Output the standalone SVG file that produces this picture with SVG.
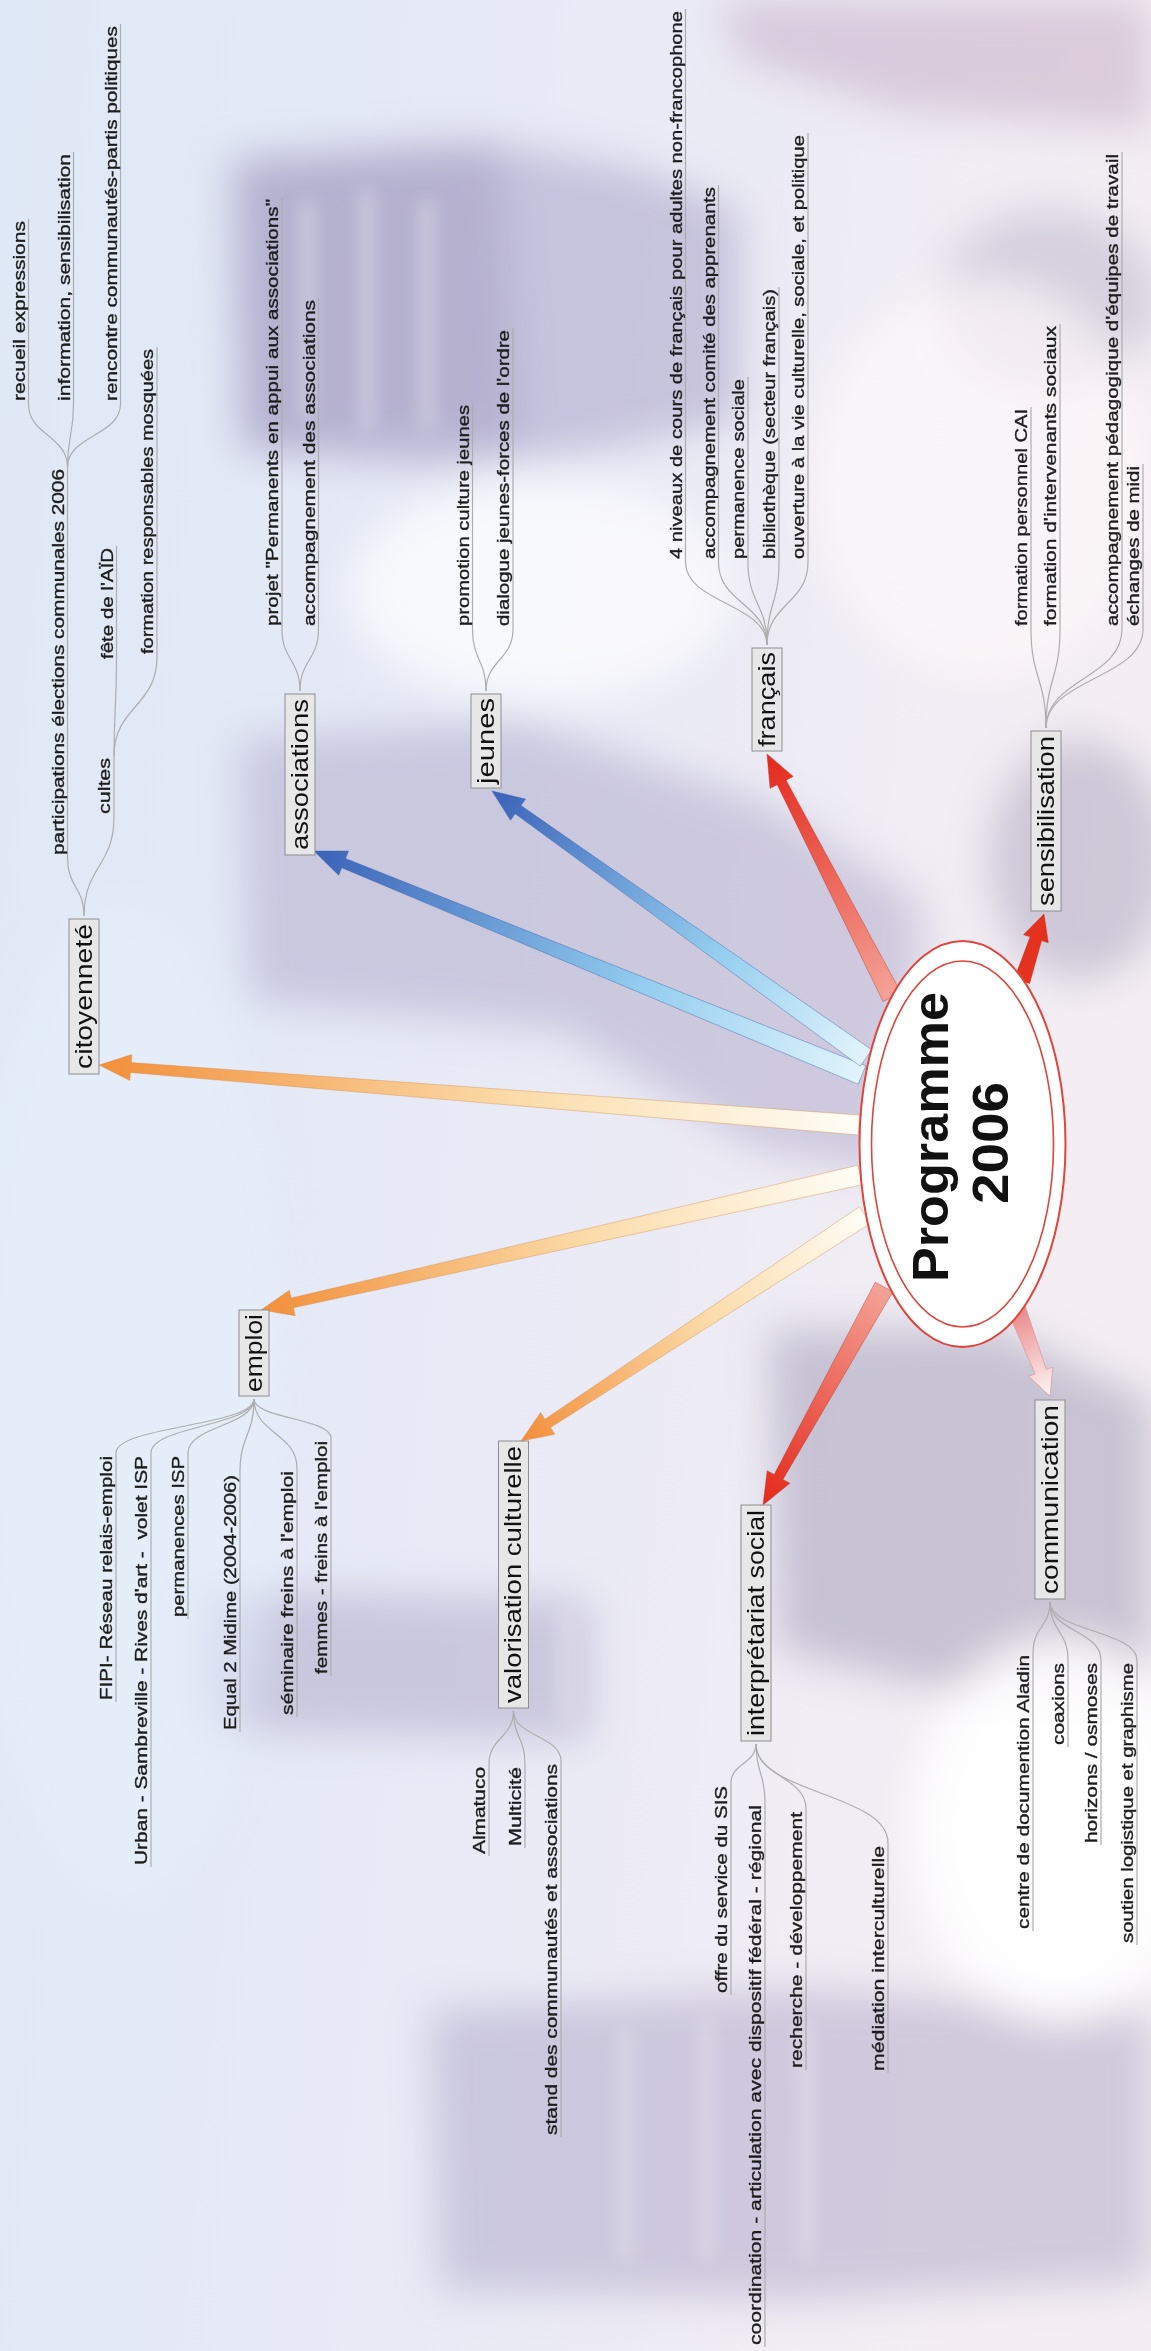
<svg xmlns="http://www.w3.org/2000/svg" width="1151" height="2351" viewBox="0 0 1151 2351">
<defs>
<style>
.box{fill:#e7e7e7;stroke:#8e8e8e;stroke-width:1}
.lbl{font-family:"Liberation Sans",Arial,sans-serif;font-size:24px;fill:#111}
.sub{font-family:"Liberation Sans",Arial,sans-serif;font-size:17px;fill:#1c1c1c;stroke:#1c1c1c;stroke-width:0.35}
.title{font-family:"Liberation Sans",Arial,sans-serif;font-size:50px;font-weight:bold;fill:#111}
.ln{fill:none;stroke:#adadad;stroke-width:1.2}
.arO{fill:url(#gOr);stroke:#d2833f;stroke-opacity:.45;stroke-width:.8}
.arB{fill:url(#gBl);stroke:#2f58a8;stroke-opacity:.45;stroke-width:.8}
.arR{fill:url(#gRd);stroke:#b8281c;stroke-opacity:.45;stroke-width:.8}
.arS{fill:#e4321f;stroke:#b8281c;stroke-opacity:.5;stroke-width:.8}
.arP{fill:url(#gPk);stroke:#d07a7a;stroke-opacity:.5;stroke-width:.8}
</style>
<linearGradient id="bg" x1="0" y1="0" x2="1" y2="0.2">
<stop offset="0" stop-color="#dfe8f6"/><stop offset="0.5" stop-color="#e8eaf6"/><stop offset="1" stop-color="#f4eef3"/>
</linearGradient>
<linearGradient id="gOr" x1="0" y1="0" x2="1" y2="0"><stop offset="0" stop-color="#fffdf6"/><stop offset="0.45" stop-color="#fbdcaa"/><stop offset="1" stop-color="#f28f3b"/></linearGradient>
<linearGradient id="gBl" x1="0" y1="0" x2="1" y2="0"><stop offset="0" stop-color="#e2f4fc"/><stop offset="0.4" stop-color="#93cdef"/><stop offset="1" stop-color="#3a62b8"/></linearGradient>
<linearGradient id="gRd" x1="0" y1="0" x2="1" y2="0"><stop offset="0" stop-color="#f4a397"/><stop offset="1" stop-color="#e4281b"/></linearGradient>
<linearGradient id="gPk" x1="0" y1="0" x2="1" y2="0"><stop offset="0" stop-color="#e98a8a"/><stop offset="1" stop-color="#fff5f5"/></linearGradient>
<filter id="blur" x="-30%" y="-30%" width="160%" height="160%"><feGaussianBlur stdDeviation="20"/></filter>
<filter id="blur2" x="-30%" y="-30%" width="160%" height="160%"><feGaussianBlur stdDeviation="9"/></filter>
</defs>

<g id="background">
<rect width="1151" height="2351" fill="url(#bg)"/>
<g filter="url(#blur)">
<path d="M230,160 L470,140 L640,170 L740,210 L740,420 L600,450 L440,470 L240,450 Z" fill="#a49ec4" opacity="0.5"/>
<path d="M240,160 L500,150 L520,440 L245,445 Z" fill="#9790b8" opacity="0.35"/>
<path d="M240,740 L520,720 L760,800 L920,900 L920,1180 L760,1150 L560,1030 L250,1000 Z" fill="#a6a0c4" opacity="0.45"/>
<ellipse cx="1080" cy="860" rx="90" ry="120" fill="#a8a2bc" opacity="0.5"/>
<path d="M720,0 L1151,0 L1151,130 L900,110 L740,60 Z" fill="#c4aac4" opacity="0.5"/>
<ellipse cx="1050" cy="300" rx="110" ry="90" fill="#b4aec6" opacity="0.45"/>
<path d="M200,1590 L590,1600 L590,1740 L200,1730 Z" fill="#a49ec2" opacity="0.45"/>
<path d="M770,1330 L1000,1330 L1151,1400 L1151,1700 L990,1700 L780,1650 Z" fill="#9e98b4" opacity="0.5"/>
<path d="M430,2010 L800,1990 L1151,2010 L1151,2280 L800,2300 L440,2290 Z" fill="#a49ec2" opacity="0.45"/>
<ellipse cx="540" cy="590" rx="190" ry="110" fill="#ffffff" opacity="0.7"/>
<ellipse cx="980" cy="480" rx="170" ry="200" fill="#fdf8fa" opacity="0.7"/>
<ellipse cx="1060" cy="1830" rx="150" ry="190" fill="#ffffff" opacity="0.9"/>
<ellipse cx="120" cy="1400" rx="160" ry="500" fill="#e6f0fb" opacity="0.6"/>
</g>
<g filter="url(#blur2)" opacity="0.35" fill="#ffffff">
<rect x="300" y="200" width="14" height="220"/><rect x="360" y="190" width="14" height="240"/><rect x="420" y="200" width="14" height="230"/>
<rect x="560" y="1610" width="12" height="110"/><rect x="620" y="2030" width="12" height="230"/><rect x="700" y="2020" width="12" height="240"/><rect x="800" y="2020" width="12" height="240"/>
</g>
</g>

<g transform="translate(0,2351) rotate(-90)">
<g id="connectors">
<path class="ln" d="M1435,84 C1464,84 1464,67.5 1493,67.5 H1884"/>
<path class="ln" d="M1435,84 C1484.5,84 1484.5,114 1534,114 H1595"/>
<path class="ln" d="M1884,67.5 C1915.5,67.5 1915.5,28.5 1947,28.5 H2132"/>
<path class="ln" d="M1884,67.5 C1915.5,67.5 1915.5,73.5 1947,73.5 H2199"/>
<path class="ln" d="M1884,67.5 C1915.5,67.5 1915.5,120.5 1947,120.5 H2327"/>
<path class="ln" d="M1595,114 C1642.5,114 1642.5,116.5 1690,116.5 H1805"/>
<path class="ln" d="M1595,114 C1644.5,114 1644.5,157 1694,157 H2004"/>
<path class="ln" d="M1660,300 C1691,300 1691,282 1722,282 H2154"/>
<path class="ln" d="M1660,300 C1691,300 1691,318.5 1722,318.5 H2053"/>
<path class="ln" d="M1660,486 C1691,486 1691,472.5 1722,472.5 H1948"/>
<path class="ln" d="M1660,486 C1691,486 1691,513 1722,513 H2023"/>
<path class="ln" d="M1706,767 C1747.5,767 1747.5,685.5 1789,685.5 H2342"/>
<path class="ln" d="M1706,767 C1747.5,767 1747.5,718.5 1789,718.5 H2166"/>
<path class="ln" d="M1706,767 C1747.5,767 1747.5,748 1789,748 H1974"/>
<path class="ln" d="M1706,767 C1747.5,767 1747.5,779 1789,779 H2064"/>
<path class="ln" d="M1706,767 C1747.5,767 1747.5,808 1789,808 H2218"/>
<path class="ln" d="M1623,1046 C1672.5,1046 1672.5,1031 1722,1031 H1944"/>
<path class="ln" d="M1623,1046 C1672.5,1046 1672.5,1060 1722,1060 H2027"/>
<path class="ln" d="M1623,1046 C1672.5,1046 1672.5,1122 1722,1122 H2199"/>
<path class="ln" d="M1623,1046 C1672.5,1046 1672.5,1143 1722,1143 H1887"/>
<path class="ln" d="M952,254 C925,254 925,116 898,116 H649"/>
<path class="ln" d="M952,254 C925,254 925,151 898,151 H484"/>
<path class="ln" d="M952,254 C925,254 925,188 898,188 H732"/>
<path class="ln" d="M952,254 C915.5,254 915.5,240 879,240 H619"/>
<path class="ln" d="M952,254 C917.5,254 917.5,297 883,297 H634"/>
<path class="ln" d="M952,254 C932.5,254 932.5,331 913,331 H675"/>
<path class="ln" d="M640,513.5 C613.5,513.5 613.5,489 587,489 H495"/>
<path class="ln" d="M640,513.5 C613.5,513.5 613.5,525 587,525 H503"/>
<path class="ln" d="M640,513.5 C615,513.5 615,561 590,561 H214"/>
<path class="ln" d="M607,756 C587.5,756 587.5,731 568,731 H356"/>
<path class="ln" d="M607,756 C578,756 578,765 549,765 H4"/>
<path class="ln" d="M607,756 C574.5,756 574.5,806 542,806 H281"/>
<path class="ln" d="M607,756 C557.5,756 557.5,888 508,888 H278"/>
<path class="ln" d="M749,1050 C724,1050 724,1033 699,1033 H420"/>
<path class="ln" d="M749,1050 C720,1050 720,1068 691,1068 H604"/>
<path class="ln" d="M749,1050 C720,1050 720,1101 691,1101 H506"/>
<path class="ln" d="M749,1050 C720,1050 720,1137 691,1137 H406"/>
<g transform="translate(1226,859) rotate(-85.49)"><polygon class="arO" points="0,-10 730.4,-5 730.4,-13 762.4,0 730.4,13 730.4,5 0,10"/></g>
<g transform="translate(1276,862) rotate(-67.77)"><polygon class="arB" points="0,-10 560,-5 560,-13 592,0 560,13 560,5 0,10"/></g>
<g transform="translate(1293,866) rotate(-54.48)"><polygon class="arB" points="0,-10 427.5,-5 427.5,-13 459.5,0 427.5,13 427.5,5 0,10"/></g>
<g transform="translate(1354,892) rotate(-27.22)"><polygon class="arR" points="0,-10 241.3,-5 241.3,-13 273.3,0 241.3,13 241.3,5 0,10"/></g>
<g transform="translate(1370,1022) rotate(18.18)"><polygon class="arS" points="0,-8 44.5,-6 44.5,-13 70.5,0 44.5,13 44.5,6 0,8"/></g>
<g transform="translate(1176,860) rotate(-102.70)"><polygon class="arO" points="0,-10 582,-5 582,-13 614,0 582,13 582,5 0,10"/></g>
<g transform="translate(1136,865) rotate(-123.30)"><polygon class="arO" points="0,-10 379.6,-5 379.6,-13 411.6,0 379.6,13 379.6,5 0,10"/></g>
<g transform="translate(1064,884) rotate(-150.97)"><polygon class="arR" points="0,-10 217.3,-5 217.3,-13 249.3,0 217.3,13 217.3,5 0,10"/></g>
<g transform="translate(1041,1017) rotate(159.0)"><polygon class="arP" points="0,-9 66.1,-6 66.1,-13 92.1,0 66.1,13 66.1,6 0,9"/></g>
</g>

<g id="n-programme">
<ellipse cx="1207" cy="962.5" rx="203" ry="103" fill="#ffffff" stroke="#e0443c" stroke-width="2"/>
<ellipse cx="1207" cy="962.5" rx="183" ry="91" fill="none" stroke="#e0443c" stroke-width="1.6"/>
<text class="title" x="1069" y="948" textLength="290" lengthAdjust="spacingAndGlyphs">Programme</text>
<text class="title" x="1147" y="1008" textLength="122" lengthAdjust="spacingAndGlyphs">2006</text>
</g>

<g id="n-citoyennete"><rect class="box" x="1277" y="69" width="155" height="30"/><text class="lbl" x="1282" y="91.5" textLength="145" lengthAdjust="spacingAndGlyphs">citoyenneté</text></g>
<g id="n-participations"><text class="sub" x="1496" y="63.5" textLength="386" lengthAdjust="spacingAndGlyphs">participations élections communales 2006</text></g>
<g id="n-recueil"><text class="sub" x="1950" y="24.5" textLength="180" lengthAdjust="spacingAndGlyphs">recueil expressions</text></g>
<g id="n-information"><text class="sub" x="1950" y="69.5" textLength="247" lengthAdjust="spacingAndGlyphs">information, sensibilisation</text></g>
<g id="n-rencontre"><text class="sub" x="1950" y="116.5" textLength="375" lengthAdjust="spacingAndGlyphs">rencontre communautés-partis politiques</text></g>
<g id="n-cultes"><text class="sub" x="1537" y="110" textLength="56" lengthAdjust="spacingAndGlyphs">cultes</text></g>
<g id="n-fete"><text class="sub" x="1692" y="112.5" textLength="111" lengthAdjust="spacingAndGlyphs">fête de l'AÏD</text></g>
<g id="n-formation-mosquees"><text class="sub" x="1697" y="153" textLength="305" lengthAdjust="spacingAndGlyphs">formation responsables mosquées</text></g>

<g id="n-associations"><rect class="box" x="1496" y="285" width="161" height="30"/><text class="lbl" x="1501" y="307.5" textLength="151" lengthAdjust="spacingAndGlyphs">associations</text></g>
<g id="n-projet"><text class="sub" x="1725" y="278" textLength="427" lengthAdjust="spacingAndGlyphs">projet "Permanents en appui aux associations"</text></g>
<g id="n-accomp-assoc"><text class="sub" x="1725" y="314.5" textLength="326" lengthAdjust="spacingAndGlyphs">accompagnement des associations</text></g>

<g id="n-jeunes"><rect class="box" x="1563" y="471" width="94" height="30"/><text class="lbl" x="1567" y="493.5" textLength="86" lengthAdjust="spacingAndGlyphs">jeunes</text></g>
<g id="n-promotion"><text class="sub" x="1725" y="468.5" textLength="221" lengthAdjust="spacingAndGlyphs">promotion culture jeunes</text></g>
<g id="n-dialogue"><text class="sub" x="1725" y="509" textLength="296" lengthAdjust="spacingAndGlyphs">dialogue jeunes-forces de l'ordre</text></g>

<g id="n-francais"><rect class="box" x="1600" y="752" width="103" height="30"/><text class="lbl" x="1604" y="774.5" textLength="95" lengthAdjust="spacingAndGlyphs">français</text></g>
<g id="n-niveaux"><text class="sub" x="1792" y="681.5" textLength="548" lengthAdjust="spacingAndGlyphs">4 niveaux de cours de français pour adultes non-francophone</text></g>
<g id="n-comite"><text class="sub" x="1792" y="714.5" textLength="372" lengthAdjust="spacingAndGlyphs">accompagnement comité des apprenants</text></g>
<g id="n-permanence"><text class="sub" x="1792" y="744" textLength="180" lengthAdjust="spacingAndGlyphs">permanence sociale</text></g>
<g id="n-bibliotheque"><text class="sub" x="1792" y="775" textLength="270" lengthAdjust="spacingAndGlyphs">bibliothèque (secteur français)</text></g>
<g id="n-ouverture"><text class="sub" x="1792" y="804" textLength="424" lengthAdjust="spacingAndGlyphs">ouverture à la vie culturelle, sociale, et politique</text></g>

<g id="n-sensibilisation"><rect class="box" x="1440" y="1031" width="180" height="30"/><text class="lbl" x="1445" y="1053.5" textLength="170" lengthAdjust="spacingAndGlyphs">sensibilisation</text></g>
<g id="n-cai"><text class="sub" x="1725" y="1027" textLength="217" lengthAdjust="spacingAndGlyphs">formation personnel CAI</text></g>
<g id="n-intervenants"><text class="sub" x="1725" y="1056" textLength="300" lengthAdjust="spacingAndGlyphs">formation d'intervenants sociaux</text></g>
<g id="n-pedagogique"><text class="sub" x="1725" y="1118" textLength="472" lengthAdjust="spacingAndGlyphs">accompagnement pédagogique d'équipes de travail</text></g>
<g id="n-echanges"><text class="sub" x="1725" y="1139" textLength="160" lengthAdjust="spacingAndGlyphs">échanges de midi</text></g>

<g id="n-emploi"><rect class="box" x="955" y="239" width="86" height="30"/><text class="lbl" x="959" y="261.5" textLength="78" lengthAdjust="spacingAndGlyphs">emploi</text></g>
<g id="n-fipi"><text class="sub" x="651" y="112" textLength="244" lengthAdjust="spacingAndGlyphs">FIPI- Réseau relais-emploi</text></g>
<g id="n-urban"><text class="sub" x="486" y="147" textLength="409" lengthAdjust="spacingAndGlyphs" xml:space="preserve">Urban - Sambreville - Rives d'art -  volet ISP</text></g>
<g id="n-isp"><text class="sub" x="734" y="184" textLength="161" lengthAdjust="spacingAndGlyphs">permanences ISP</text></g>
<g id="n-equal"><text class="sub" x="621" y="236" textLength="255" lengthAdjust="spacingAndGlyphs">Equal 2 Midime (2004-2006)</text></g>
<g id="n-seminaire"><text class="sub" x="636" y="293" textLength="244" lengthAdjust="spacingAndGlyphs">séminaire freins à l'emploi</text></g>
<g id="n-femmes"><text class="sub" x="677" y="327" textLength="233" lengthAdjust="spacingAndGlyphs">femmes - freins à l'emploi</text></g>

<g id="n-valorisation"><rect class="box" x="643" y="498.5" width="267" height="30"/><text class="lbl" x="648" y="521" textLength="257" lengthAdjust="spacingAndGlyphs">valorisation culturelle</text></g>
<g id="n-almatuco"><text class="sub" x="497" y="485" textLength="87" lengthAdjust="spacingAndGlyphs">Almatuco</text></g>
<g id="n-multicite"><text class="sub" x="505" y="521" textLength="79" lengthAdjust="spacingAndGlyphs">Multicité</text></g>
<g id="n-stand"><text class="sub" x="216" y="557" textLength="371" lengthAdjust="spacingAndGlyphs">stand des communautés et associations</text></g>

<g id="n-interpretariat"><rect class="box" x="610" y="741" width="236" height="30"/><text class="lbl" x="615" y="763.5" textLength="226" lengthAdjust="spacingAndGlyphs">interprétariat social</text></g>
<g id="n-offre"><text class="sub" x="358" y="727" textLength="207" lengthAdjust="spacingAndGlyphs">offre du service du SIS</text></g>
<g id="n-coordination"><text class="sub" x="6" y="761" textLength="540" lengthAdjust="spacingAndGlyphs">coordination - articulation avec dispositif fédéral - régional</text></g>
<g id="n-recherche"><text class="sub" x="283" y="802" textLength="256" lengthAdjust="spacingAndGlyphs">recherche - développement</text></g>
<g id="n-mediation"><text class="sub" x="280" y="884" textLength="225" lengthAdjust="spacingAndGlyphs">médiation interculturelle</text></g>

<g id="n-communication"><rect class="box" x="752" y="1035" width="199" height="30"/><text class="lbl" x="757" y="1057.5" textLength="189" lengthAdjust="spacingAndGlyphs">communication</text></g>
<g id="n-aladin"><text class="sub" x="422" y="1029" textLength="274" lengthAdjust="spacingAndGlyphs">centre de documention Aladin</text></g>
<g id="n-coaxions"><text class="sub" x="606" y="1064" textLength="82" lengthAdjust="spacingAndGlyphs">coaxions</text></g>
<g id="n-horizons"><text class="sub" x="508" y="1097" textLength="180" lengthAdjust="spacingAndGlyphs">horizons / osmoses</text></g>
<g id="n-soutien"><text class="sub" x="408" y="1133" textLength="280" lengthAdjust="spacingAndGlyphs">soutien logistique et graphisme</text></g>
</g>
</svg>
